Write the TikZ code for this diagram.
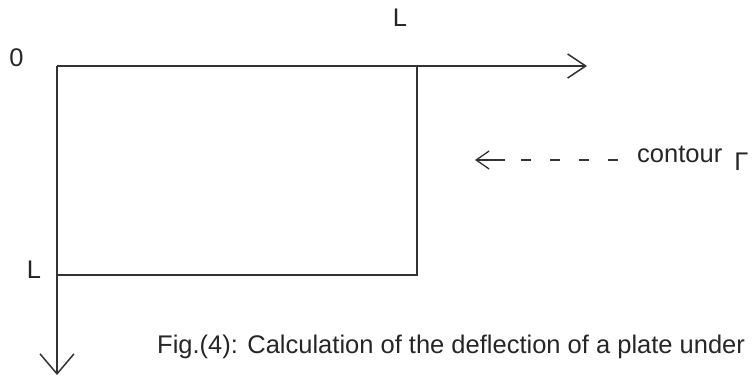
\documentclass[tikz,border=0pt]{standalone}
\usepackage{fontspec}
\setmainfont{Liberation Sans}
\usetikzlibrary{arrows.meta}
\begin{document}
\begin{tikzpicture}[x=1pt, y=-1pt,
    every node/.style={inner sep=0pt, text=black!85},
    lbl/.style={font=\fontsize{25.5}{30}\selectfont},
    edge/.style={black!80, line width=1.5pt},
    axisarrow/.style={edge, -{Straight Barb[length=18pt, width=24pt, line width=1.5pt]}},
    downarrow/.style={edge, -{Straight Barb[length=20pt, width=34pt, line width=1.5pt]}},
    ptr/.style={black!80, line width=1.3pt, -{Straight Barb[length=13pt, width=18pt, line width=1.3pt]}}]
    \useasboundingbox (0,0) rectangle (754,380);
    \coordinate (O) at (57,66);
    \coordinate (xend) at (587,66);
    \coordinate (yend) at (57,375);
    \coordinate (C) at (417,275);
    \draw[axisarrow] (O) -- (xend);
    \draw[downarrow] (O) -- (yend);
    \draw[edge] (O -| C) -- (C) -- (O |- C);
    \node[lbl] (zero) at (16.5,58) {0};
    \node[lbl] (Ltop) at (400,17.5) {L};
    \node[lbl] (Lleft) at (34,269.5) {L};
    \node[lbl, anchor=base west] (ctr) at (637,162) {contour\hspace{12pt}\raisebox{-8pt}{Γ}};
    \coordinate (d0) at (618,160);
    \coordinate (d1) at (505,160);
    \coordinate (tip) at (475,160);
    \draw[black!80, line width=1.3pt, dash pattern=on 10pt off 19pt] (d0) -- (d1);
    \draw[ptr] (d1) -- (tip);
    \node[lbl, anchor=base west] (cap) at (157,353) {Fig.(4): Calculation of the deflection of a plate under};
\end{tikzpicture}
\end{document}
